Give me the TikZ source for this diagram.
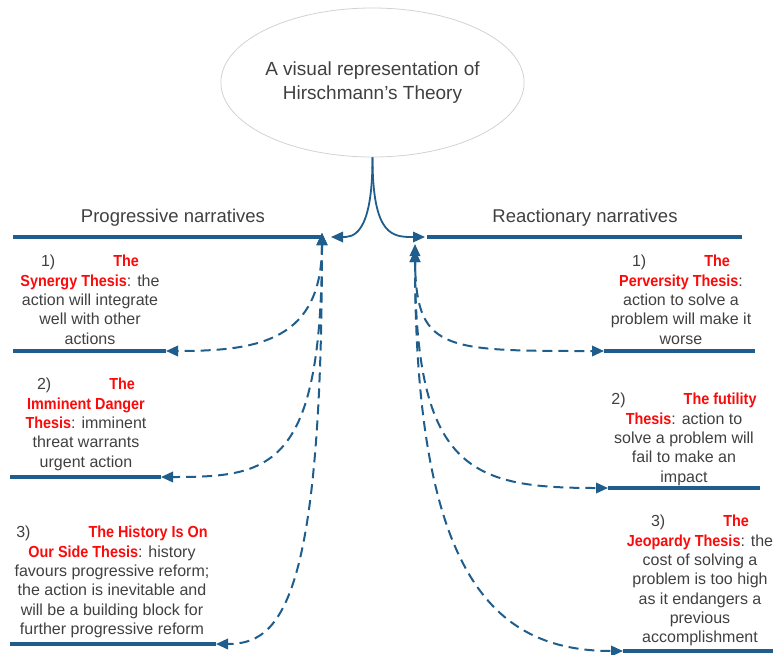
\documentclass[tikz,border=0pt]{standalone}
\usepackage{fontspec}
\setmainfont{Liberation Sans}
\newfontfamily\condbf[FakeStretch=0.9]{Liberation Sans}
\usetikzlibrary{shapes.geometric,arrows.meta}
\definecolor{cblue}{RGB}{31,94,140}
\definecolor{tgray}{RGB}{64,64,64}
\definecolor{tred}{RGB}{250,10,10}
\newcommand{\redt}[1]{{\condbf\bfseries\color{tred}#1}}
\begin{document}
\begin{tikzpicture}[x=1pt,y=-1pt,
  bar/.style={cblue, line width=4.5pt},
  dcon/.style={cblue, line width=2pt, dash pattern=on 10pt off 6pt, {Triangle[length=12pt,width=10.5pt]}-{Triangle[length=12pt,width=10.5pt]}},
  econ/.style={cblue, line width=1.8pt, -{Triangle[length=12pt,width=10.5pt]}},
  txt/.style={align=center, text=tgray, font=\fontsize{16}{19.3}\selectfont, inner sep=0pt, anchor=north},
  hdr/.style={text=tgray, font=\fontsize{18.5}{22}\selectfont, inner sep=0pt}]
\useasboundingbox (0,0) rectangle (773,654);

% title ellipse
\node[ellipse, draw=gray!35, line width=0.8pt, minimum width=245pt, minimum height=149pt,
  inner sep=0pt, align=center, text=tgray, font=\fontsize{19}{24}\selectfont] (ell) at (372.5,82.5)
  {A visual representation of\\Hirschmann’s Theory};

% headers
\node[hdr] (ph) at (173,218) {Progressive narratives};
\node[hdr] (rh) at (585,218) {Reactionary narratives};

% key coordinates
\coordinate (pin) at (331,237);
\coordinate (rin) at (425,237);
\coordinate (ptip) at (322,233);
\coordinate (rtipA) at (415,244);
\coordinate (rtipB) at (415,250);
\coordinate (pb1) at (166,351);
\coordinate (pb2) at (161,477);
\coordinate (pb3) at (216,644);
\coordinate (rb1) at (604,351);
\coordinate (rb2) at (608,488);
\coordinate (rb3) at (623,651);

% bars
\draw[bar] (13,237) -- (322,237);
\draw[bar] (427,237) -- (742,237);
\draw[bar] (13,351) -- (pb1);
\draw[bar] (10,477) -- (pb2);
\draw[bar] (10,644) -- (pb3);
\draw[bar] (rb1) -- (755,351);
\draw[bar] (rb2) -- (760,488);
\draw[bar] (rb3) -- (773,651);

% connectors from the ellipse
\draw[econ] (ell.south) .. controls (372.5,237) and (352,237) .. (pin);
\draw[econ] (ell.south) .. controls (372.5,237) and (393,237) .. (rin);

% dashed connectors
\draw[dcon] (ptip) .. controls (322,340) and (260,351) .. (pb1);
\draw[dcon] (ptip) .. controls (322,470) and (270,477) .. (pb2);
\draw[dcon] (ptip) .. controls (322,604) and (280,644) .. (pb3);
\draw[dcon] (rtipA) .. controls (415,351) and (440,351) .. (rb1);
\draw[dcon] (rtipB) .. controls (415,470) and (470,488) .. (rb2);
\draw[dcon] (rtipB) .. controls (415,570) and (490,651) .. (rb3);

% texts
\node[txt] (p1) at (90,255) {1)\hspace{58pt}\redt{The}\\\redt{Synergy Thesis}: the\\action will integrate\\well with other\\actions};
\node[txt] (p2) at (86,378) {2)\hspace{58pt}\redt{The}\\\redt{Imminent Danger}\\\redt{Thesis}: imminent\\threat warrants\\urgent action};
\node[txt] (p3) at (112,526) {3)\hspace{58pt}\redt{The History Is On}\\\redt{Our Side Thesis}: history\\favours progressive reform;\\the action is inevitable and\\will be a building block for\\further progressive reform};
\node[txt] (r1) at (681,255) {1)\hspace{58pt}\redt{The}\\\redt{Perversity Thesis}:\\action to solve a\\problem will make it\\worse};
\node[txt] (r2) at (684,393) {2)\hspace{58pt}\redt{The futility}\\\redt{Thesis}: action to\\solve a problem will\\fail to make an\\impact};
\node[txt] (r3) at (700,515) {3)\hspace{58pt}\redt{The}\\\redt{Jeopardy Thesis}: the\\cost of solving a\\problem is too high\\as it endangers a\\previous\\accomplishment};
\end{tikzpicture}
\end{document}
